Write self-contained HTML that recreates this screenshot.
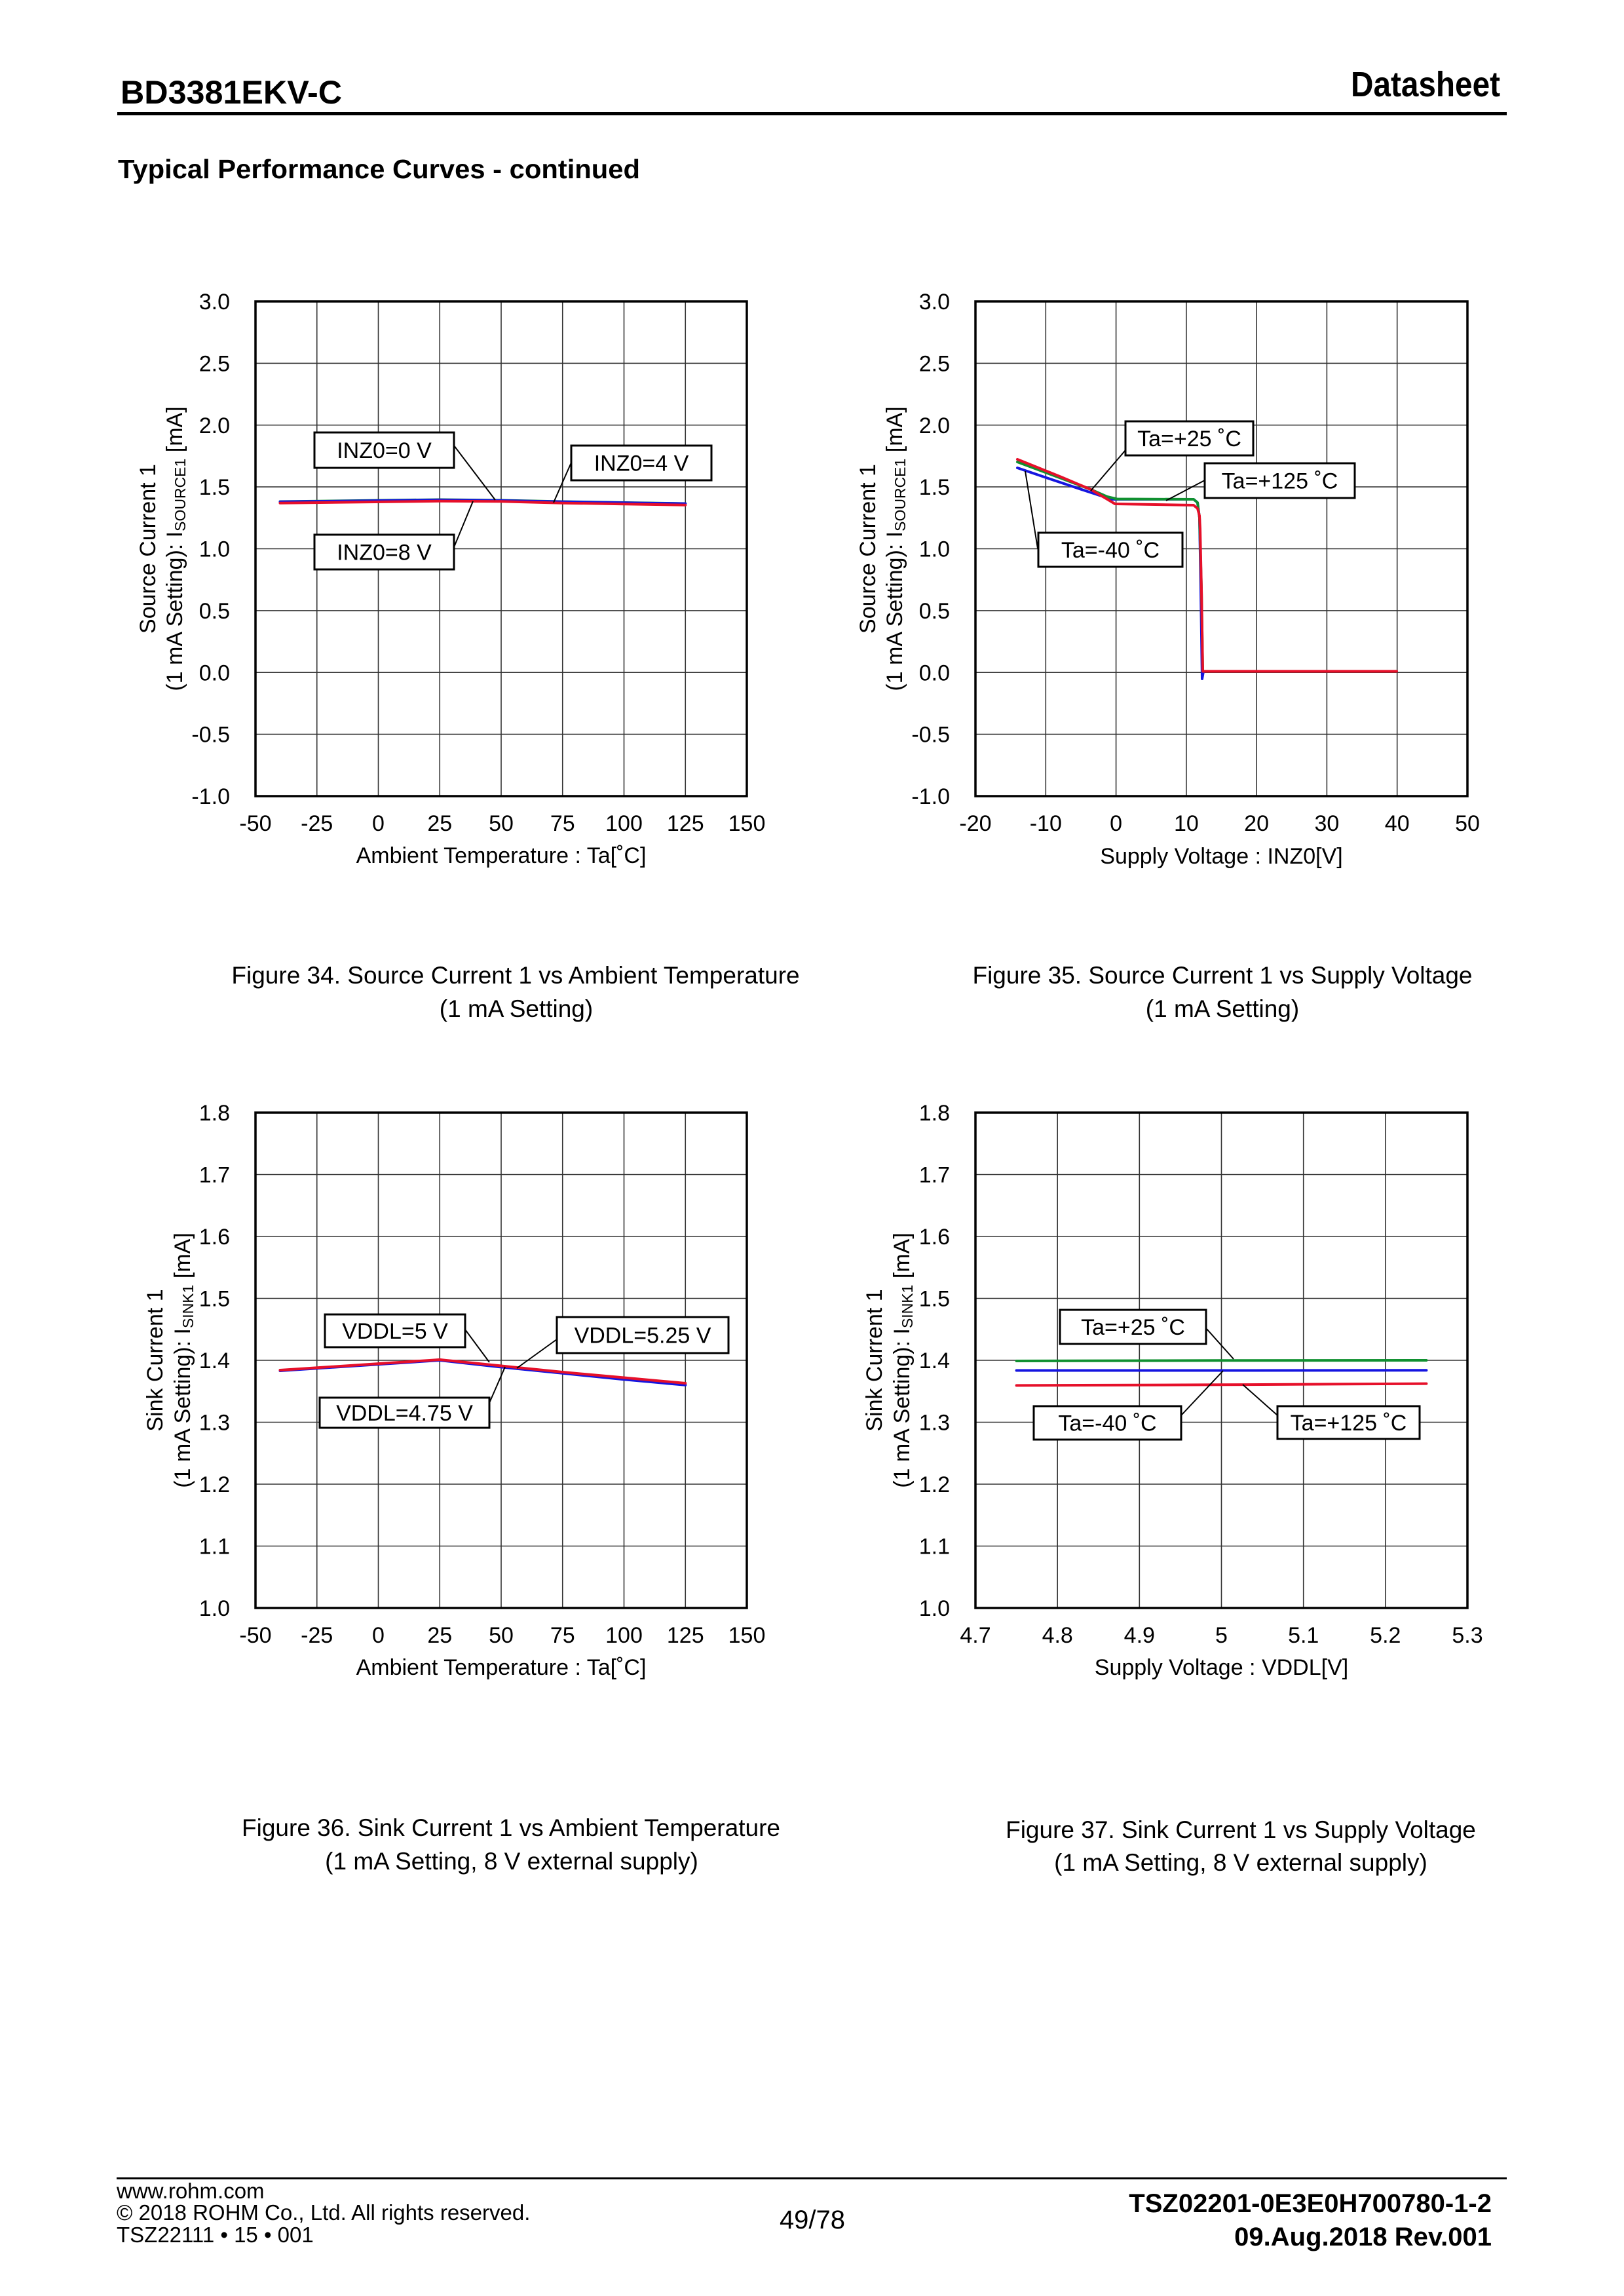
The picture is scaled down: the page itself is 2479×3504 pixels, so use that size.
<!DOCTYPE html>
<html>
<head>
<meta charset="utf-8">
<style>
  html,body{margin:0;padding:0;background:#fff;}
  svg{display:block;}
  text{font-family:"Liberation Sans", Arial, sans-serif; fill:#000;}
</style>
</head>
<body>
<svg xmlns="http://www.w3.org/2000/svg" width="2479" height="3504" viewBox="0 0 2479 3504">
  <rect x="0" y="0" width="2479" height="3504" fill="#fff"/>

  <!-- Header -->
  <text x="184" y="158" font-size="50" font-weight="bold" textLength="338" lengthAdjust="spacingAndGlyphs">BD3381EKV-C</text>
  <text x="2290" y="147" font-size="54" font-weight="bold" text-anchor="end" textLength="228" lengthAdjust="spacingAndGlyphs">Datasheet</text>
  <rect x="179" y="171" width="2121" height="5" fill="#000"/>
  <text x="180" y="272" font-size="41" font-weight="bold" textLength="797" lengthAdjust="spacingAndGlyphs">Typical Performance Curves - continued</text>

  <!-- ============ CHART 1 ============ -->
  <g stroke="#333" stroke-width="1.6" fill="none">
    <line x1="483.75" y1="460" x2="483.75" y2="1215"/>
    <line x1="577.5" y1="460" x2="577.5" y2="1215"/>
    <line x1="671.25" y1="460" x2="671.25" y2="1215"/>
    <line x1="765" y1="460" x2="765" y2="1215"/>
    <line x1="858.75" y1="460" x2="858.75" y2="1215"/>
    <line x1="952.5" y1="460" x2="952.5" y2="1215"/>
    <line x1="1046.25" y1="460" x2="1046.25" y2="1215"/>
    <line x1="390" y1="554.4" x2="1140" y2="554.4"/>
    <line x1="390" y1="648.75" x2="1140" y2="648.75"/>
    <line x1="390" y1="743.1" x2="1140" y2="743.1"/>
    <line x1="390" y1="837.5" x2="1140" y2="837.5"/>
    <line x1="390" y1="931.9" x2="1140" y2="931.9"/>
    <line x1="390" y1="1026.25" x2="1140" y2="1026.25"/>
    <line x1="390" y1="1120.6" x2="1140" y2="1120.6"/>
  </g>
  <g fill="none" stroke-width="4" stroke-linejoin="round" stroke-linecap="round">
    <polyline stroke="#109030" points="427.5,765.5 671.25,762.5 765,763.5 858.75,765.5 952.5,767 1046.25,768.5"/>
    <polyline stroke="#1515e0" points="427.5,765.8 671.25,762.9 765,763.9 858.75,765.8 952.5,767.3 1046.25,768.6"/>
    <polyline stroke="#e6102a" points="427.5,767.7 671.25,764.8 765,765.2 858.75,767.7 952.5,769.2 1046.25,770.7"/>
  </g>
  <rect x="390" y="460" width="750" height="755" fill="none" stroke="#000" stroke-width="3.5"/>
  <g stroke="#000" stroke-width="2">
    <line x1="693" y1="680" x2="756" y2="763"/>
    <line x1="872" y1="706" x2="845" y2="767"/>
    <line x1="693" y1="835" x2="722" y2="765"/>
  </g>
  <g fill="#fff" stroke="#000" stroke-width="3">
    <rect x="480" y="660" width="213" height="54"/>
    <rect x="872" y="680" width="214" height="53"/>
    <rect x="480" y="816" width="213" height="53"/>
  </g>
  <g font-size="34" text-anchor="middle">
    <text x="586.5" y="699">INZ0=0 V</text>
    <text x="979" y="718.5">INZ0=4 V</text>
    <text x="586.5" y="854.5">INZ0=8 V</text>
  </g>
  <g font-size="34" text-anchor="end">
    <text x="351" y="472">3.0</text>
    <text x="351" y="566.4">2.5</text>
    <text x="351" y="660.75">2.0</text>
    <text x="351" y="755.1">1.5</text>
    <text x="351" y="849.5">1.0</text>
    <text x="351" y="943.9">0.5</text>
    <text x="351" y="1038.25">0.0</text>
    <text x="351" y="1132.6">-0.5</text>
    <text x="351" y="1227">-1.0</text>
  </g>
  <g font-size="34" text-anchor="middle">
    <text x="390" y="1268">-50</text>
    <text x="483.75" y="1268">-25</text>
    <text x="577.5" y="1268">0</text>
    <text x="671.25" y="1268">25</text>
    <text x="765" y="1268">50</text>
    <text x="858.75" y="1268">75</text>
    <text x="952.5" y="1268">100</text>
    <text x="1046.25" y="1268">125</text>
    <text x="1140" y="1268">150</text>
    <text x="765" y="1317">Ambient Temperature : Ta[˚C]</text>
  </g>
  <text transform="translate(237,837.5) rotate(-90)" text-anchor="middle" font-size="34">Source Current 1</text>
  <text transform="translate(278,837.5) rotate(-90)" text-anchor="middle" font-size="34">(1 mA Setting): I<tspan font-size="23" dy="5">SOURCE1</tspan><tspan dy="-5"> [mA]</tspan></text>

  <!-- ============ CHART 2 ============ -->
  <g stroke="#333" stroke-width="1.6" fill="none">
    <line x1="1596.3" y1="460" x2="1596.3" y2="1215"/>
    <line x1="1703.6" y1="460" x2="1703.6" y2="1215"/>
    <line x1="1810.9" y1="460" x2="1810.9" y2="1215"/>
    <line x1="1918.1" y1="460" x2="1918.1" y2="1215"/>
    <line x1="2025.4" y1="460" x2="2025.4" y2="1215"/>
    <line x1="2132.7" y1="460" x2="2132.7" y2="1215"/>
    <line x1="1489" y1="554.4" x2="2240" y2="554.4"/>
    <line x1="1489" y1="648.75" x2="2240" y2="648.75"/>
    <line x1="1489" y1="743.1" x2="2240" y2="743.1"/>
    <line x1="1489" y1="837.5" x2="2240" y2="837.5"/>
    <line x1="1489" y1="931.9" x2="2240" y2="931.9"/>
    <line x1="1489" y1="1026.25" x2="2240" y2="1026.25"/>
    <line x1="1489" y1="1120.6" x2="2240" y2="1120.6"/>
  </g>
  <g fill="none" stroke-width="4" stroke-linejoin="round" stroke-linecap="round">
    <polyline stroke="#1515e0" points="1553,714 1600,730 1660,750 1697,762 1822,762 1828,767 1831,790 1833,900 1835,1036 1837,1024.5 2132,1024.5"/>
    <polyline stroke="#109030" points="1553,705 1620,730 1665,747 1690,758 1705,761.5 1822,762 1828,767 1831,790 1834,900 1836,1024.5 2132,1024.5"/>
    <polyline stroke="#e6102a" points="1553,701 1620,728 1665,747 1692,763 1702,769 1822,771 1828,776 1831,787 1832,807 1834,900 1836,1024.5 2132,1024.5"/>
  </g>
  <rect x="1489" y="460" width="751" height="755" fill="none" stroke="#000" stroke-width="3.5"/>
  <g stroke="#000" stroke-width="2">
    <line x1="1718" y1="687" x2="1665" y2="749"/>
    <line x1="1839" y1="733" x2="1780" y2="764"/>
    <line x1="1584" y1="837" x2="1565" y2="719"/>
  </g>
  <g fill="#fff" stroke="#000" stroke-width="3">
    <rect x="1718" y="643" width="195" height="52"/>
    <rect x="1839" y="707" width="229" height="53"/>
    <rect x="1585" y="813" width="220" height="52"/>
  </g>
  <g font-size="34" text-anchor="middle">
    <text x="1815.5" y="681">Ta=+25 ˚C</text>
    <text x="1953.5" y="745.5">Ta=+125 ˚C</text>
    <text x="1695" y="851">Ta=-40 ˚C</text>
  </g>
  <g font-size="34" text-anchor="end">
    <text x="1450" y="472">3.0</text>
    <text x="1450" y="566.4">2.5</text>
    <text x="1450" y="660.75">2.0</text>
    <text x="1450" y="755.1">1.5</text>
    <text x="1450" y="849.5">1.0</text>
    <text x="1450" y="943.9">0.5</text>
    <text x="1450" y="1038.25">0.0</text>
    <text x="1450" y="1132.6">-0.5</text>
    <text x="1450" y="1227">-1.0</text>
  </g>
  <g font-size="34" text-anchor="middle">
    <text x="1489" y="1268">-20</text>
    <text x="1596.3" y="1268">-10</text>
    <text x="1703.6" y="1268">0</text>
    <text x="1810.9" y="1268">10</text>
    <text x="1918.1" y="1268">20</text>
    <text x="2025.4" y="1268">30</text>
    <text x="2132.7" y="1268">40</text>
    <text x="2240" y="1268">50</text>
    <text x="1864.5" y="1318">Supply Voltage : INZ0[V]</text>
  </g>
  <text transform="translate(1336,837.5) rotate(-90)" text-anchor="middle" font-size="34">Source Current 1</text>
  <text transform="translate(1377,837.5) rotate(-90)" text-anchor="middle" font-size="34">(1 mA Setting): I<tspan font-size="23" dy="5">SOURCE1</tspan><tspan dy="-5"> [mA]</tspan></text>

  <!-- Captions row 1 -->
  <g font-size="37" text-anchor="middle">
    <text x="787" y="1501">Figure 34. Source Current 1 vs Ambient Temperature</text>
    <text x="788" y="1552">(1 mA Setting)</text>
    <text x="1866" y="1501">Figure 35. Source Current 1 vs Supply Voltage</text>
    <text x="1866" y="1552">(1 mA Setting)</text>
  </g>

  <!-- ============ CHART 3 ============ -->
  <g stroke="#333" stroke-width="1.6" fill="none">
    <line x1="483.75" y1="1698" x2="483.75" y2="2454"/>
    <line x1="577.5" y1="1698" x2="577.5" y2="2454"/>
    <line x1="671.25" y1="1698" x2="671.25" y2="2454"/>
    <line x1="765" y1="1698" x2="765" y2="2454"/>
    <line x1="858.75" y1="1698" x2="858.75" y2="2454"/>
    <line x1="952.5" y1="1698" x2="952.5" y2="2454"/>
    <line x1="1046.25" y1="1698" x2="1046.25" y2="2454"/>
    <line x1="390" y1="1792.5" x2="1140" y2="1792.5"/>
    <line x1="390" y1="1887" x2="1140" y2="1887"/>
    <line x1="390" y1="1981.5" x2="1140" y2="1981.5"/>
    <line x1="390" y1="2076" x2="1140" y2="2076"/>
    <line x1="390" y1="2170.5" x2="1140" y2="2170.5"/>
    <line x1="390" y1="2265" x2="1140" y2="2265"/>
    <line x1="390" y1="2359.5" x2="1140" y2="2359.5"/>
  </g>
  <g fill="none" stroke-width="4" stroke-linejoin="round" stroke-linecap="round">
    <polyline stroke="#109030" points="427.5,2091.5 671.25,2075.5 765,2085.5 858.75,2095 952.5,2104 1046.25,2112.5"/>
    <polyline stroke="#1515e0" points="427.5,2092 671.25,2076 765,2086.4 858.75,2095.8 952.5,2105.3 1046.25,2113.8"/>
    <polyline stroke="#e6102a" points="427.5,2091 671.25,2075 765,2084.5 858.75,2094 952.5,2102.5 1046.25,2111"/>
  </g>
  <rect x="390" y="1698" width="750" height="756" fill="none" stroke="#000" stroke-width="3.5"/>
  <g stroke="#000" stroke-width="2">
    <line x1="710" y1="2029" x2="747" y2="2079"/>
    <line x1="850" y1="2044" x2="789" y2="2088"/>
    <line x1="747" y1="2141" x2="771" y2="2086"/>
  </g>
  <g fill="#fff" stroke="#000" stroke-width="3">
    <rect x="496" y="2006" width="214" height="50"/>
    <rect x="850" y="2010" width="262" height="55"/>
    <rect x="488" y="2133" width="259" height="46"/>
  </g>
  <g font-size="34" text-anchor="middle">
    <text x="603" y="2043">VDDL=5 V</text>
    <text x="981" y="2049.5">VDDL=5.25 V</text>
    <text x="617.5" y="2168">VDDL=4.75 V</text>
  </g>
  <g font-size="34" text-anchor="end">
    <text x="351" y="1710">1.8</text>
    <text x="351" y="1804.5">1.7</text>
    <text x="351" y="1899">1.6</text>
    <text x="351" y="1993.5">1.5</text>
    <text x="351" y="2088">1.4</text>
    <text x="351" y="2182.5">1.3</text>
    <text x="351" y="2277">1.2</text>
    <text x="351" y="2371.5">1.1</text>
    <text x="351" y="2466">1.0</text>
  </g>
  <g font-size="34" text-anchor="middle">
    <text x="390" y="2507">-50</text>
    <text x="483.75" y="2507">-25</text>
    <text x="577.5" y="2507">0</text>
    <text x="671.25" y="2507">25</text>
    <text x="765" y="2507">50</text>
    <text x="858.75" y="2507">75</text>
    <text x="952.5" y="2507">100</text>
    <text x="1046.25" y="2507">125</text>
    <text x="1140" y="2507">150</text>
    <text x="765" y="2556">Ambient Temperature : Ta[˚C]</text>
  </g>
  <text transform="translate(248,2076) rotate(-90)" text-anchor="middle" font-size="34">Sink Current 1</text>
  <text transform="translate(290,2076) rotate(-90)" text-anchor="middle" font-size="34">(1 mA Setting): I<tspan font-size="23" dy="5">SINK1</tspan><tspan dy="-5"> [mA]</tspan></text>

  <!-- ============ CHART 4 ============ -->
  <g stroke="#333" stroke-width="1.6" fill="none">
    <line x1="1614.2" y1="1698" x2="1614.2" y2="2454"/>
    <line x1="1739.3" y1="1698" x2="1739.3" y2="2454"/>
    <line x1="1864.5" y1="1698" x2="1864.5" y2="2454"/>
    <line x1="1989.7" y1="1698" x2="1989.7" y2="2454"/>
    <line x1="2114.8" y1="1698" x2="2114.8" y2="2454"/>
    <line x1="1489" y1="1792.5" x2="2240" y2="1792.5"/>
    <line x1="1489" y1="1887" x2="2240" y2="1887"/>
    <line x1="1489" y1="1981.5" x2="2240" y2="1981.5"/>
    <line x1="1489" y1="2076" x2="2240" y2="2076"/>
    <line x1="1489" y1="2170.5" x2="2240" y2="2170.5"/>
    <line x1="1489" y1="2265" x2="2240" y2="2265"/>
    <line x1="1489" y1="2359.5" x2="2240" y2="2359.5"/>
  </g>
  <g fill="none" stroke-width="4" stroke-linejoin="round" stroke-linecap="round">
    <polyline stroke="#109030" points="1551.6,2077 1864.5,2076.3 2177.4,2076"/>
    <polyline stroke="#1515e0" points="1551.6,2091.5 1864.5,2091.5 2177.4,2091.3"/>
    <polyline stroke="#e6102a" points="1551.6,2114.4 1864.5,2113.3 2177.4,2111.6"/>
  </g>
  <rect x="1489" y="1698" width="751" height="756" fill="none" stroke="#000" stroke-width="3.5"/>
  <g stroke="#000" stroke-width="2">
    <line x1="1841" y1="2027" x2="1883" y2="2074"/>
    <line x1="1803" y1="2160" x2="1867" y2="2092"/>
    <line x1="1950" y1="2160" x2="1897" y2="2113"/>
  </g>
  <g fill="#fff" stroke="#000" stroke-width="3">
    <rect x="1618" y="1999" width="223" height="52"/>
    <rect x="1578" y="2146" width="225" height="51"/>
    <rect x="1950" y="2146" width="217" height="50"/>
  </g>
  <g font-size="34" text-anchor="middle">
    <text x="1729.5" y="2037">Ta=+25 ˚C</text>
    <text x="1690.5" y="2183.5">Ta=-40 ˚C</text>
    <text x="2058.5" y="2183">Ta=+125 ˚C</text>
  </g>
  <g font-size="34" text-anchor="end">
    <text x="1450" y="1710">1.8</text>
    <text x="1450" y="1804.5">1.7</text>
    <text x="1450" y="1899">1.6</text>
    <text x="1450" y="1993.5">1.5</text>
    <text x="1450" y="2088">1.4</text>
    <text x="1450" y="2182.5">1.3</text>
    <text x="1450" y="2277">1.2</text>
    <text x="1450" y="2371.5">1.1</text>
    <text x="1450" y="2466">1.0</text>
  </g>
  <g font-size="34" text-anchor="middle">
    <text x="1489" y="2507">4.7</text>
    <text x="1614.2" y="2507">4.8</text>
    <text x="1739.3" y="2507">4.9</text>
    <text x="1864.5" y="2507">5</text>
    <text x="1989.7" y="2507">5.1</text>
    <text x="2114.8" y="2507">5.2</text>
    <text x="2240" y="2507">5.3</text>
    <text x="1864.5" y="2556">Supply Voltage : VDDL[V]</text>
  </g>
  <text transform="translate(1346,2076) rotate(-90)" text-anchor="middle" font-size="34">Sink Current 1</text>
  <text transform="translate(1388,2076) rotate(-90)" text-anchor="middle" font-size="34">(1 mA Setting): I<tspan font-size="23" dy="5">SINK1</tspan><tspan dy="-5"> [mA]</tspan></text>

  <!-- Captions row 2 -->
  <g font-size="37" text-anchor="middle">
    <text x="780" y="2802">Figure 36. Sink Current 1 vs Ambient Temperature</text>
    <text x="781" y="2853">(1 mA Setting, 8 V external supply)</text>
    <text x="1894" y="2805">Figure 37. Sink Current 1 vs Supply Voltage</text>
    <text x="1894" y="2855">(1 mA Setting, 8 V external supply)</text>
  </g>

  <!-- Footer -->
  <rect x="178" y="3323" width="2122" height="3" fill="#000"/>
  <g font-size="33">
    <text x="178" y="3355">www.rohm.com</text>
    <text x="178" y="3388">© 2018 ROHM Co., Ltd. All rights reserved.</text>
    <text x="178" y="3422">TSZ22111 • 15 • 001</text>
  </g>
  <text x="1240" y="3401" font-size="40" text-anchor="middle">49/78</text>
  <g font-size="40" font-weight="bold" text-anchor="end">
    <text x="2277" y="3376">TSZ02201-0E3E0H700780-1-2</text>
    <text x="2277" y="3427">09.Aug.2018 Rev.001</text>
  </g>
</svg>
</body>
</html>
